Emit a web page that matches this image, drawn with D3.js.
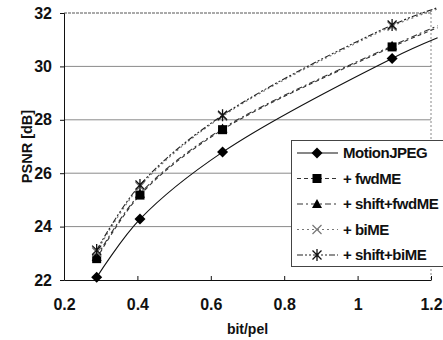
<!DOCTYPE html>
<html>
<head>
<meta charset="utf-8">
<script src="https://cdn.jsdelivr.net/npm/d3@7"></script>
<style>
  html, body { margin: 0; padding: 0; background: #fff; }
  svg { display: block; }
  text { font-family: "Liberation Sans", Arial, sans-serif; font-weight: bold; fill: #111; }
</style>
</head>
<body>
<svg id="chart" width="443" height="340"></svg>
<script>
// Bit rate (bit/pel) of each coded point; the last entry continues the curve past the axis end.
const bitRates = [0.289, 0.407, 0.632, 1.094, 1.218];

// PSNR [dB] per coding scheme
const motionJPEG   = [22.10, 24.28, 26.79, 30.30, 31.07];
const fwdME        = [22.80, 25.18, 27.63, 30.73, 31.45];
const shiftFwdME   = [22.86, 25.23, 27.67, 30.77, 31.52];
const biME         = [23.05, 25.50, 28.13, 31.50, 32.15];
const shiftBiME    = [23.12, 25.56, 28.17, 31.55, 32.20];

const seriesNames = ["MotionJPEG", "+ fwdME", "+ shift+fwdME", "+ biME", "+ shift+biME"];
const xTicks = [0.2, 0.4, 0.6, 0.8, 1, 1.2];
const yTicks = [22, 24, 26, 28, 30, 32];

const series = [
  { name: seriesNames[0], values: motionJPEG, dash: null,          stroke: "#111", marker: "diamond" },
  { name: seriesNames[1], values: fwdME,      dash: "4,3",         stroke: "#333", marker: "square" },
  { name: seriesNames[2], values: shiftFwdME, dash: "6,3,2,3",     stroke: "#333", marker: "triangle" },
  { name: seriesNames[3], values: biME,       dash: "2,3",         stroke: "#777", marker: "cross" },
  { name: seriesNames[4], values: shiftBiME,  dash: "6,2,2,2,2,2", stroke: "#222", marker: "star" }
];

const svg = d3.select("#chart");
const plotL = 64, plotR = 431, plotT = 13, plotB = 280;

const x = d3.scaleLinear().domain([0.2, 1.2]).range([plotL, plotR]);
const y = d3.scaleLinear().domain([22, 32]).range([plotB, plotT]);

// horizontal gridlines
svg.append("g").selectAll("line")
  .data(yTicks.filter(v => v > 22 && v < 32))
  .join("line")
  .attr("x1", plotL).attr("x2", plotR)
  .attr("y1", d => y(d)).attr("y2", d => y(d))
  .attr("stroke", "#8a8a8a").attr("stroke-width", 1);

// top and right frame edges (light, dotted)
svg.append("line").attr("x1", plotL).attr("x2", plotR).attr("y1", plotT).attr("y2", plotT)
  .attr("stroke", "#555").attr("stroke-dasharray", "3,1");
svg.append("line").attr("x1", plotR).attr("x2", plotR).attr("y1", plotT).attr("y2", plotB)
  .attr("stroke", "#888").attr("stroke-dasharray", "2,2");

// y axis: ticks outward, labels on the left
const yAxis = svg.append("g")
  .attr("transform", `translate(${plotL},0)`)
  .call(d3.axisLeft(y).tickValues(yTicks).tickSize(4).tickPadding(8).tickFormat(d3.format("d")));
yAxis.select(".domain").attr("stroke", "#111");
yAxis.selectAll(".tick line").attr("stroke", "#111");
yAxis.selectAll("text").style("font-size", "16px").attr("fill", "#111");

// x axis: ticks inward, labels below
const xAxis = svg.append("g")
  .attr("transform", `translate(0,${plotB})`)
  .call(d3.axisBottom(x).tickValues(xTicks).tickSizeInner(-4).tickSizeOuter(0).tickPadding(19)
    .tickFormat(d => d === 1 ? "1" : d3.format(".1f")(d)));
xAxis.select(".domain").attr("stroke", "#111");
xAxis.selectAll(".tick line").attr("stroke", "#111");
xAxis.selectAll("text").style("font-size", "16px").attr("fill", "#111");

// axis titles
svg.append("text")
  .attr("x", (plotL + plotR) / 2).attr("y", 334)
  .attr("text-anchor", "middle").style("font-size", "14px")
  .text("bit/pel");
svg.append("text")
  .attr("transform", `translate(32,${(plotT + plotB) / 2}) rotate(-90)`)
  .attr("text-anchor", "middle").style("font-size", "14.5px")
  .text("PSNR [dB]");

// marker shapes
function drawMarker(g, kind, cx, cy) {
  if (kind === "diamond") {
    g.append("path").attr("d", `M${cx},${cy - 5.5}L${cx + 5.5},${cy}L${cx},${cy + 5.5}L${cx - 5.5},${cy}Z`)
      .attr("fill", "#000");
  } else if (kind === "square") {
    g.append("rect").attr("x", cx - 4.5).attr("y", cy - 4.5).attr("width", 9).attr("height", 9)
      .attr("fill", "#000");
  } else if (kind === "triangle") {
    g.append("path").attr("d", `M${cx},${cy - 5}L${cx + 5},${cy + 4}L${cx - 5},${cy + 4}Z`)
      .attr("fill", "#000");
  } else if (kind === "cross") {
    g.append("path").attr("d", `M${cx - 4.5},${cy - 4.5}L${cx + 4.5},${cy + 4.5}M${cx + 4.5},${cy - 4.5}L${cx - 4.5},${cy + 4.5}`)
      .attr("stroke", "#777").attr("stroke-width", 1.2).attr("fill", "none");
  } else if (kind === "star") {
    g.append("path").attr("d", `M${cx - 4.5},${cy - 4.5}L${cx + 4.5},${cy + 4.5}M${cx + 4.5},${cy - 4.5}L${cx - 4.5},${cy + 4.5}M${cx},${cy - 6}L${cx},${cy + 6}`)
      .attr("stroke", "#111").attr("stroke-width", 1.3).attr("fill", "none");
  }
}

const line = d3.line()
  .x((d, i) => x(bitRates[i]))
  .y(d => y(d))
  .curve(d3.curveCatmullRom.alpha(0.5));

const plot = svg.append("g");
series.forEach(s => {
  plot.append("path")
    .attr("d", line(s.values))
    .attr("fill", "none")
    .attr("stroke", s.stroke)
    .attr("stroke-width", 1.1)
    .attr("stroke-dasharray", s.dash);
});
// markers only where the rate lies inside the axis range
series.forEach(s => {
  const g = plot.append("g");
  s.values.forEach((v, i) => {
    if (bitRates[i] <= 1.2) drawMarker(g, s.marker, x(bitRates[i]), y(v));
  });
});

// legend
const legend = svg.append("g");
legend.append("rect")
  .attr("x", 291.5).attr("y", 140.5).attr("width", 160).attr("height", 126)
  .attr("fill", "#fff").attr("stroke", "#444").attr("stroke-width", 1);
series.forEach((s, i) => {
  const ly = 153 + i * 25.5;
  legend.append("line")
    .attr("x1", 297).attr("x2", 338).attr("y1", ly).attr("y2", ly)
    .attr("stroke", s.stroke).attr("stroke-width", 1.1)
    .attr("stroke-dasharray", s.dash);
  drawMarker(legend, s.marker, 317, ly);
  legend.append("text")
    .attr("x", 343).attr("y", ly).attr("dy", "0.36em")
    .style("font-size", "15px")
    .style("letter-spacing", "-0.5px")
    .text(s.name);
});
</script>
</body>
</html>
